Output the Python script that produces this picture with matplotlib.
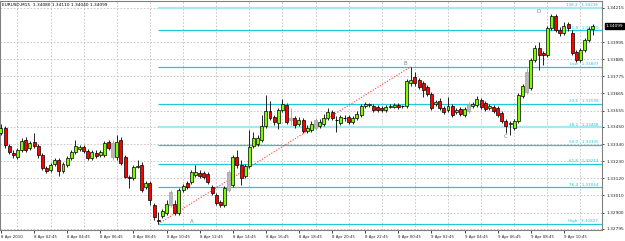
import numpy as np
import matplotlib.pyplot as plt
import matplotlib.transforms as mtransforms

# ----------
# DONNEES (EURUSD M15, 8-9 Apr 2010)

opens = [1.33411, 1.33443, 1.33328, 1.33283, 1.33257, 1.33302, 1.33366, 1.33315, 1.33353, 1.33328,
         1.33270, 1.33186, 1.33174, 1.33212, 1.33238, 1.33167, 1.33206, 1.33251, 1.33289, 1.33308,
         1.33321, 1.33296, 1.33251, 1.33283, 1.33270, 1.33270, 1.33353, 1.33257, 1.33257, 1.33366,
         1.33257, 1.33129, 1.33122, 1.33193, 1.33206, 1.33064, 1.33090, 1.32949, 1.32853, 1.32878,
         1.32898, 1.32949, 1.32955, 1.32898, 1.33045, 1.33090, 1.33097, 1.33141, 1.33154, 1.33154,
         1.33148, 1.33064, 1.33013, 1.32968, 1.32949, 1.33045, 1.33077, 1.33257, 1.33206, 1.33135,
         1.33199, 1.33328, 1.33341, 1.33366, 1.33456, 1.33552, 1.33514, 1.33475, 1.33559, 1.33591,
         1.33507, 1.33507, 1.33469, 1.33495, 1.33424, 1.33430, 1.33443, 1.33456, 1.33469, 1.33507,
         1.33546, 1.33495, 1.33475, 1.33507, 1.33514, 1.33482, 1.33507, 1.33527, 1.33584, 1.33591,
         1.33584, 1.33578, 1.33572, 1.33559, 1.33578, 1.33578, 1.33591, 1.33584, 1.33584, 1.33732,
         1.33771, 1.33751, 1.33732, 1.33706, 1.33662, 1.33597, 1.33617, 1.33572, 1.33559, 1.33584,
         1.33546, 1.33565, 1.33527, 1.33552, 1.33584, 1.33591, 1.33623, 1.33604, 1.33572, 1.33578,
         1.33572, 1.33540, 1.33488, 1.33469, 1.33443, 1.33488, 1.33649, 1.33674, 1.33700, 1.33880,
         1.33957, 1.33925, 1.33912, 1.34085, 1.34162, 1.34072, 1.34053, 1.34111, 1.34053, 1.33931,
         1.33880, 1.33944, 1.34008, 1.34080]

highs = [1.33469, 1.33456, 1.33341, 1.33302, 1.33315, 1.33379, 1.33385, 1.33360, 1.33411, 1.33341,
         1.33283, 1.33199, 1.33219, 1.33251, 1.33251, 1.33225, 1.33263, 1.33302, 1.33366, 1.33334,
         1.33334, 1.33308, 1.33302, 1.33302, 1.33302, 1.33360, 1.33366, 1.33366, 1.33398, 1.33385,
         1.33270, 1.33141, 1.33206, 1.33238, 1.33225, 1.33103, 1.33103, 1.32962, 1.32904, 1.32923,
         1.32981, 1.33045, 1.32981, 1.33058, 1.33084, 1.33103, 1.33174, 1.33206, 1.33174, 1.33167,
         1.33161, 1.33077, 1.33026, 1.32981, 1.33071, 1.33174, 1.33270, 1.33302, 1.33238, 1.33212,
         1.33430, 1.33418, 1.33398, 1.33527, 1.33655, 1.33617, 1.33527, 1.33572, 1.33629, 1.33604,
         1.33572, 1.33520, 1.33514, 1.33507, 1.33462, 1.33488, 1.33507, 1.33501, 1.33533, 1.33572,
         1.33559, 1.33520, 1.33527, 1.33527, 1.33527, 1.33520, 1.33552, 1.33597, 1.33610, 1.33604,
         1.33597, 1.33591, 1.33584, 1.33591, 1.33597, 1.33604, 1.33604, 1.33591, 1.33758, 1.33837,
         1.33803, 1.33764, 1.33745, 1.33719, 1.33674, 1.33623, 1.33636, 1.33584, 1.33642, 1.33597,
         1.33572, 1.33578, 1.33578, 1.33610, 1.33610, 1.33649, 1.33636, 1.33617, 1.33597, 1.33591,
         1.33584, 1.33552, 1.33501, 1.33488, 1.33501, 1.33668, 1.33726, 1.33828, 1.33893, 1.33976,
         1.33995, 1.33938, 1.34098, 1.34175, 1.34175, 1.34092, 1.34124, 1.34124, 1.34072, 1.33944,
         1.33957, 1.34021, 1.34092, 1.34110]

lows = [1.33398, 1.33315, 1.33276, 1.33251, 1.33244, 1.33289, 1.33289, 1.33302, 1.33315, 1.33251,
        1.33174, 1.33154, 1.33161, 1.33199, 1.33135, 1.33154, 1.33193, 1.33238, 1.33276, 1.33296,
        1.33283, 1.33238, 1.33238, 1.33251, 1.33257, 1.33257, 1.33302, 1.33238, 1.33238, 1.33206,
        1.33122, 1.33058, 1.33109, 1.33186, 1.33032, 1.33052, 1.32949, 1.32853, 1.32827, 1.32865,
        1.32885, 1.32936, 1.32885, 1.32885, 1.33032, 1.33052, 1.33084, 1.33129, 1.33122, 1.33116,
        1.33084, 1.33013, 1.32949, 1.32936, 1.32936, 1.33032, 1.33064, 1.33186, 1.33077, 1.33122,
        1.33186, 1.33315, 1.33328, 1.33353, 1.33443, 1.33495, 1.33462, 1.33437, 1.33546, 1.33469,
        1.33462, 1.33443, 1.33456, 1.33411, 1.33411, 1.33418, 1.33430, 1.33443, 1.33456, 1.33495,
        1.33495, 1.33418, 1.33462, 1.33488, 1.33469, 1.33469, 1.33495, 1.33514, 1.33572, 1.33578,
        1.33546, 1.33546, 1.33546, 1.33546, 1.33572, 1.33572, 1.33565, 1.33572, 1.33572, 1.33713,
        1.33713, 1.33694, 1.33642, 1.33649, 1.33559, 1.33584, 1.33559, 1.33533, 1.33546, 1.33514,
        1.33533, 1.33520, 1.33514, 1.33540, 1.33572, 1.33578, 1.33565, 1.33552, 1.33559, 1.33540,
        1.33514, 1.33475, 1.33411, 1.33398, 1.33430, 1.33475, 1.33636, 1.33662, 1.33687, 1.33867,
        1.33816, 1.33848, 1.33899, 1.34072, 1.34060, 1.34034, 1.34040, 1.34066, 1.33912, 1.33867,
        1.33867, 1.33931, 1.33995, 1.34040]

closes = [1.33443, 1.33334, 1.33289, 1.33270, 1.33302, 1.33360, 1.33302, 1.33347, 1.33328, 1.33270,
          1.33186, 1.33167, 1.33206, 1.33238, 1.33167, 1.33212, 1.33251, 1.33289, 1.33328, 1.33321,
          1.33296, 1.33251, 1.33289, 1.33263, 1.33289, 1.33347, 1.33315, 1.33347, 1.33353, 1.33219,
          1.33129, 1.33122, 1.33193, 1.33199, 1.33045, 1.33090, 1.32981, 1.32872, 1.32846, 1.32910,
          1.32955, 1.33032, 1.32898, 1.33045, 1.33071, 1.33064, 1.33161, 1.33161, 1.33135, 1.33129,
          1.33097, 1.33026, 1.32962, 1.32949, 1.33058, 1.33161, 1.33257, 1.33206, 1.33122, 1.33199,
          1.33321, 1.33379, 1.33379, 1.33456, 1.33552, 1.33507, 1.33482, 1.33559, 1.33597, 1.33482,
          1.33495, 1.33462, 1.33495, 1.33424, 1.33443, 1.33469, 1.33495, 1.33482, 1.33507, 1.33546,
          1.33507, 1.33495, 1.33514, 1.33507, 1.33482, 1.33507, 1.33533, 1.33584, 1.33597, 1.33597,
          1.33559, 1.33559, 1.33559, 1.33578, 1.33584, 1.33591, 1.33578, 1.33584, 1.33745, 1.33751,
          1.33732, 1.33706, 1.33687, 1.33662, 1.33572, 1.33610, 1.33572, 1.33546, 1.33584, 1.33527,
          1.33559, 1.33533, 1.33565, 1.33597, 1.33597, 1.33629, 1.33578, 1.33565, 1.33584, 1.33552,
          1.33527, 1.33488, 1.33456, 1.33475, 1.33488, 1.33655, 1.33713, 1.33803, 1.33880, 1.33957,
          1.33912, 1.33912, 1.34085, 1.34162, 1.34072, 1.34053, 1.34098, 1.34085, 1.33925, 1.33880,
          1.33944, 1.34008, 1.34079, 1.34099]

# barres dessinees en gris (ombres)
gray_bars = [27, 41, 55, 70, 76, 113, 127]

date_labels = ["8 Apr 2010", "8 Apr 02:45", "8 Apr 04:45", "8 Apr 06:45", "8 Apr 08:45",
               "8 Apr 10:45", "8 Apr 12:45", "8 Apr 14:45", "8 Apr 16:45", "8 Apr 18:45",
               "8 Apr 20:45", "8 Apr 22:45", "9 Apr 00:45", "9 Apr 02:45", "9 Apr 04:45",
               "9 Apr 06:45", "9 Apr 08:45", "9 Apr 10:45"]

price_ticks = [1.34215, 1.33995, 1.33885, 1.33775, 1.33665, 1.33555, 1.33450,
               1.33340, 1.33230, 1.33120, 1.33010, 1.32900, 1.32795]

# niveaux de Fibonacci (A -> B)
fib_names = ["High", "76.4", "61.8", "50.0", "38.2", "23.6", "Low", "61.8", "138.2"]
fib_prices = [1.32827, 1.33064, 1.33213, 1.33335, 1.33448, 1.33598, 1.33837, 1.34070, 1.34216]
fib_pale = [False, False, False, False, True, False, False, False, True]

A_BAR, B_BAR, C_BAR, D_BAR = 38, 99, 122, 133

# -------------------
# PROGRAMME PRINCIPAL

o, h, l, c = (np.array(v) for v in (opens, highs, lows, closes))
x = np.arange(len(o))

fig = plt.figure(figsize=(6.25, 2.41), dpi=100)
ax = fig.add_axes([0.0, 0.0456, 0.9632, 0.9503])
ax.set_xlim(-0.22, 145.2)
ax.set_ylim(1.32788, 1.34259)

# grille pointillee
ax.set_xticks(x[::8])
ax.set_xticks(x[4::8], minor=True)
ax.set_yticks(price_ticks)
ax.grid(which='minor', axis='x', color='#c0c0c0', linestyle=(0, (2, 2)), linewidth=0.6)
ax.grid(which='major', axis='y', color='#c0c0c0', linestyle=(0, (2, 2)), linewidth=0.6)
ax.set_axisbelow(True)

# niveaux de Fibonacci
for name, p, pale in zip(fib_names, fib_prices, fib_pale):
    ax.hlines(p, A_BAR, 145.2, color='#a8e8ee' if pale else '#22c8d6',
              linewidth=1.6 if pale else 0.9, zorder=1)
    ax.text(144.3, p + 0.00003, f"{name}   {p:.5f}", color='#22c8d6', fontsize=3.0,
            ha='right', va='bottom', zorder=1)

# ligne A-B pointillee
ax.plot([A_BAR, B_BAR], [l[A_BAR], h[B_BAR]], color='#ff4040', linestyle=(0, (1, 1.5)),
        linewidth=0.8, zorder=2)

# bougies
gray = np.zeros(len(o), dtype=bool)
gray[gray_bars] = True
up = c >= o
wick_col = np.where(gray, '#a0a0a0', 'black')
ax.vlines(x, l, h, colors=wick_col, linewidth=0.6, zorder=3)
body_col = np.where(gray, '#b8b8b8', np.where(up, '#7cfc00', '#ff0000'))
edge_col = np.where(gray, '#a0a0a0', 'black')
bottom = np.minimum(o, c)
height = np.abs(c - o)
doji = height < 0.00004
ax.bar(x[~doji], height[~doji], bottom=bottom[~doji], width=0.72,
       color=body_col[~doji], edgecolor=edge_col[~doji], linewidth=0.5, zorder=4)
ax.hlines(c[doji], x[doji] - 0.4, x[doji] + 0.4, colors='black', linewidth=0.7, zorder=4)

# points A B C D
ax.text(A_BAR + 8, l[A_BAR] + 0.00002, 'A', color='#808080', fontsize=4, ha='center', va='bottom')
ax.text(B_BAR - 1.3, h[B_BAR] + 0.00002, 'B', color='#808080', fontsize=4, ha='center', va='bottom')
ax.text(C_BAR, l[C_BAR] - 0.00005, 'C', color='#808080', fontsize=4, ha='center', va='top')
ax.text(D_BAR - 3.2, h[D_BAR], 'D', color='#808080', fontsize=4, ha='center', va='bottom')

# titre
ax.text(0.004, 0.992, "EURUSD,M15  1.34080 1.34110 1.34040 1.34099", transform=ax.transAxes,
        fontsize=3.1, ha='left', va='top')

# axes facon MT4
ax.yaxis.tick_right()
ax.tick_params(axis='y', labelsize=3.1, length=1.5, width=0.6, pad=1.5, colors='#202020')
ax.tick_params(axis='x', labelsize=2.8, length=2, width=0.6, pad=1.5, colors='#202020')
ax.tick_params(axis='x', which='minor', length=0)
ax.set_yticklabels([f"{p:.5f}" for p in price_ticks])
ax.set_xticklabels(date_labels)
for lbl in ax.get_xticklabels():
    lbl.set_ha('left')
for sp in ax.spines.values():
    sp.set_color('#808080')
    sp.set_linewidth(0.8)

# prix courant
trans = mtransforms.blended_transform_factory(ax.transAxes, ax.transData)
ax.text(1.006, c[-1], f"{c[-1]:.5f}", transform=trans, fontsize=3.1, color='white',
        ha='left', va='center', bbox=dict(boxstyle='square,pad=0.25', fc='black', ec='black'))

fig.savefig('out.png', dpi=100, facecolor='white')
